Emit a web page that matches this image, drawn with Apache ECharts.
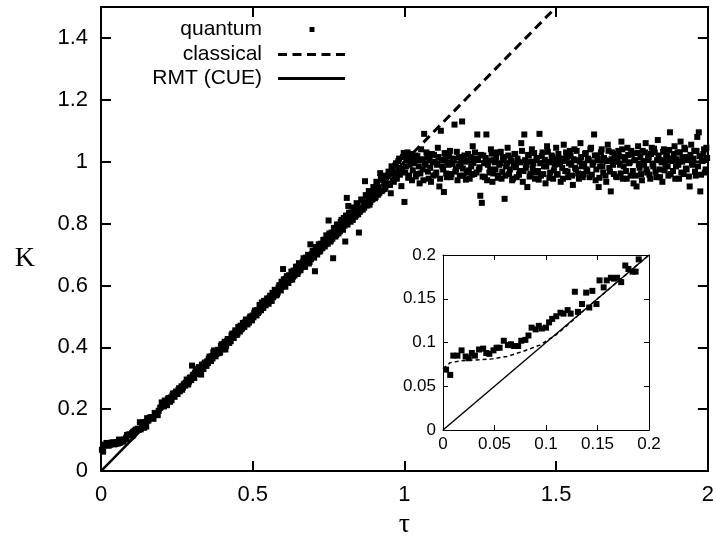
<!DOCTYPE html>
<html>
<head>
<meta charset="utf-8">
<script src="https://cdn.jsdelivr.net/npm/echarts@6/dist/echarts.min.js"></script>
<style>html,body{margin:0;padding:0;background:#fff}#c{width:717px;height:544px}</style>
</head>
<body>
<div id="c"></div>
<script>
// ---- data ----
const xTicksMain = [0, 0.5, 1, 1.5, 2];
const yTicksMain = [0, 0.2, 0.4, 0.6, 0.8, 1, 1.2, 1.4];
const ticksInset = [0, 0.05, 0.1, 0.15, 0.2];

// quantum K(tau), small tau (also shown in inset)
const quantumLow = [
[0.003,0.069],[0.007,0.063],[0.010,0.085],[0.014,0.085],[0.018,0.091],[0.022,0.084],[0.025,0.082],[0.028,0.088],[0.031,0.085],[0.035,0.092],
[0.039,0.093],[0.042,0.088],[0.045,0.087],[0.049,0.091],[0.052,0.094],[0.055,0.094],[0.059,0.102],[0.063,0.097],[0.066,0.098],[0.069,0.096],
[0.073,0.096],[0.076,0.102],[0.080,0.103],[0.083,0.108],[0.086,0.117],[0.090,0.115],[0.093,0.119],[0.096,0.116],[0.100,0.117],[0.103,0.123],
[0.106,0.127],[0.110,0.130],[0.114,0.134],[0.117,0.133],[0.121,0.137],[0.124,0.133],[0.128,0.158],[0.131,0.135],[0.135,0.144],[0.139,0.157],
[0.142,0.140],[0.145,0.159],[0.149,0.144],[0.152,0.171],[0.156,0.163],[0.159,0.171],[0.163,0.174],[0.166,0.173],[0.169,0.174],[0.173,0.169],
[0.177,0.188],[0.180,0.184],[0.184,0.181],[0.187,0.181],[0.190,0.195]
];
// quantum K(tau), linear ramp
const quantumRamp = [
[0.195,0.205],[0.200,0.222],[0.205,0.214],[0.210,0.228],[0.215,0.220],[0.220,0.232],[0.225,0.229],[0.230,0.238],[0.235,0.244],[0.240,0.246],
[0.245,0.252],[0.250,0.255],[0.255,0.262],[0.260,0.258],[0.265,0.274],[0.270,0.270],[0.275,0.283],[0.280,0.286],[0.285,0.291],[0.290,0.289],
[0.295,0.303],[0.300,0.341],[0.305,0.312],[0.310,0.318],[0.315,0.322],[0.320,0.331],[0.325,0.328],[0.330,0.312],[0.335,0.339],[0.340,0.346],
[0.345,0.348],[0.350,0.355],[0.355,0.363],[0.360,0.358],[0.365,0.372],[0.370,0.384],[0.375,0.377],[0.380,0.379],[0.385,0.392],[0.390,0.388],
[0.395,0.404],[0.400,0.398],[0.405,0.411],[0.410,0.393],[0.415,0.420],[0.420,0.427],[0.425,0.421],[0.430,0.439],[0.435,0.433],[0.440,0.446],
[0.445,0.452],[0.450,0.445],[0.455,0.461],[0.460,0.470],[0.465,0.462],[0.470,0.475],[0.475,0.481],[0.480,0.476],[0.485,0.488],[0.490,0.496],
[0.495,0.491],[0.500,0.503],[0.505,0.512],[0.510,0.506],[0.515,0.521],[0.520,0.515],[0.525,0.532],[0.530,0.545],[0.535,0.528],[0.540,0.544],
[0.545,0.551],[0.550,0.547],[0.555,0.560],[0.560,0.553],[0.565,0.576],[0.570,0.568],[0.575,0.582],[0.580,0.571],[0.585,0.594],[0.590,0.588],
[0.595,0.612],[0.600,0.653],[0.605,0.604],[0.610,0.622],[0.615,0.611],[0.620,0.633],[0.625,0.626],[0.630,0.619],[0.635,0.648],[0.640,0.642],
[0.645,0.661],[0.650,0.645],[0.655,0.667],[0.660,0.658],[0.665,0.676],[0.670,0.662],[0.675,0.690],[0.680,0.678],[0.685,0.671],[0.690,0.733],
[0.695,0.701],[0.700,0.692],[0.705,0.646],[0.710,0.718],[0.715,0.724],[0.720,0.709],[0.725,0.735],[0.730,0.722],[0.735,0.748],[0.740,0.733],
[0.745,0.757],[0.750,0.810],[0.755,0.742],[0.760,0.771],[0.765,0.688],[0.770,0.782],[0.775,0.763],[0.780,0.796],[0.785,0.777],[0.790,0.805],
[0.795,0.786],[0.800,0.818],[0.805,0.742],[0.810,0.883],[0.815,0.857],[0.820,0.825],[0.825,0.836],[0.830,0.812],[0.835,0.848],[0.840,0.827],
[0.845,0.860],[0.850,0.771],[0.855,0.842],[0.860,0.874],[0.865,0.851],[0.870,0.937],[0.875,0.866],[0.880,0.889],[0.885,0.861],[0.890,0.903],
[0.895,0.879],[0.900,0.915],[0.905,0.886],[0.910,0.928],[0.915,0.897],[0.920,0.963],[0.925,0.905],[0.930,0.940],[0.935,0.912],[0.940,0.951],
[0.945,0.925],[0.950,0.962],[0.955,0.898],[0.960,0.975],[0.965,0.935],[0.970,0.988],[0.975,0.945],[0.980,1.002],[0.985,0.958],[0.990,0.921],
[0.995,1.015]
];
// quantum K(tau), linear ramp, interleaved samples
const quantumRamp2 = [
[0.2025,0.218],[0.2075,0.209],[0.2125,0.226],[0.2175,0.213],[0.2225,0.236],[0.2275,0.224],[0.2325,0.229],[0.2375,0.251],[0.2425,0.240],[0.2475,0.257],
[0.2525,0.249],[0.2575,0.268],[0.2625,0.266],[0.2675,0.263],[0.2725,0.279],[0.2775,0.276],[0.2825,0.296],[0.2875,0.280],[0.2925,0.301],[0.2975,0.294],
[0.3025,0.309],[0.3075,0.301],[0.3125,0.328],[0.3175,0.314],[0.3225,0.336],[0.3275,0.322],[0.3325,0.344],[0.3375,0.330],[0.3425,0.351],[0.3475,0.340],
[0.3525,0.349],[0.3575,0.370],[0.3625,0.356],[0.3675,0.364],[0.3725,0.390],[0.3775,0.371],[0.3825,0.388],[0.3875,0.381],[0.3925,0.383],[0.3975,0.410],
[0.4025,0.394],[0.4075,0.418],[0.4125,0.405],[0.4175,0.427],[0.4225,0.414],[0.4275,0.420],[0.4325,0.444],[0.4375,0.430],[0.4425,0.455],[0.4475,0.440],
[0.4525,0.466],[0.4575,0.451],[0.4625,0.458],[0.4675,0.479],[0.4725,0.466],[0.4775,0.490],[0.4825,0.474],[0.4875,0.480],[0.4925,0.500],[0.4975,0.487],
[0.5025,0.497],[0.5075,0.519],[0.5125,0.503],[0.5175,0.511],[0.5225,0.537],[0.5275,0.520],[0.5325,0.527],[0.5375,0.550],[0.5425,0.536],[0.5475,0.558],
[0.5525,0.541],[0.5575,0.567],[0.5625,0.550],[0.5675,0.562],[0.5725,0.586],[0.5775,0.568],[0.5825,0.577],[0.5875,0.601],[0.5925,0.584],[0.5975,0.596],
[0.6025,0.620],[0.6075,0.596],[0.6125,0.630],[0.6175,0.608],[0.6225,0.618],[0.6275,0.645],[0.6325,0.628],[0.6375,0.632],[0.6425,0.660],[0.6475,0.637],
[0.6525,0.672],[0.6575,0.649],[0.6625,0.664],[0.6675,0.688],[0.6725,0.660],[0.6775,0.672],[0.6825,0.699],[0.6875,0.676],[0.6925,0.685],[0.6975,0.712],
[0.7025,0.690],[0.7075,0.724],[0.7125,0.700],[0.7175,0.733],[0.7225,0.712],[0.7275,0.720],[0.7325,0.747],[0.7375,0.726],[0.7425,0.762],[0.7475,0.735],
[0.7525,0.768],[0.7575,0.745],[0.7625,0.751],[0.7675,0.786],[0.7725,0.758],[0.7775,0.797],[0.7825,0.768],[0.7875,0.775],[0.7925,0.812],[0.7975,0.780],
[0.8025,0.793],[0.8075,0.826],[0.8125,0.797],[0.8175,0.835],[0.8225,0.806],[0.8275,0.818],[0.8325,0.852],[0.8375,0.822],[0.8425,0.866],[0.8475,0.830],
[0.8525,0.838],[0.8575,0.878],[0.8625,0.845],[0.8675,0.852],[0.8725,0.892],[0.8775,0.858],[0.8825,0.905],[0.8875,0.870],[0.8925,0.877],[0.8975,0.918],
[0.9025,0.882],[0.9075,0.935],[0.9125,0.893],[0.9175,0.900],[0.9225,0.946],[0.9275,0.908],[0.9325,0.955],[0.9375,0.918],[0.9425,0.930],[0.9475,0.968],
[0.9525,0.925],[0.9575,0.985],[0.9625,0.940],[0.9675,0.952],[0.9725,0.995],[0.9775,0.962],[0.9825,1.010],[0.9875,0.970],[0.9925,0.978],[0.9975,1.028]
];
// quantum K(tau), plateau
const quantumPlateau = [
[1.000,0.870],[1.005,0.985],[1.010,1.030],[1.015,0.955],[1.020,1.010],[1.025,0.940],[1.030,0.995],[1.035,1.020],[1.040,0.960],[1.045,1.005],
[1.050,0.930],[1.055,1.040],[1.060,0.975],[1.065,1.090],[1.070,0.990],[1.075,1.015],[1.080,0.945],[1.085,0.980],[1.090,1.025],[1.095,0.955],
[1.100,1.000],[1.105,0.965],[1.110,1.045],[1.115,0.920],[1.120,1.100],[1.125,0.985],[1.130,0.902],[1.135,1.010],[1.140,0.950],[1.145,0.990],
[1.150,1.035],[1.155,0.960],[1.160,1.005],[1.165,1.120],[1.170,0.975],[1.175,0.940],[1.180,1.015],[1.185,0.990],[1.190,1.130],[1.195,0.955],
[1.200,1.000],[1.205,0.965],[1.210,1.025],[1.215,0.945],[1.220,0.985],[1.225,1.050],[1.230,0.960],[1.235,1.010],[1.240,1.088],[1.245,0.975],
[1.250,0.890],[1.255,0.867],[1.260,1.020],[1.265,0.950],[1.270,1.088],[1.275,0.990],[1.280,0.965],[1.285,1.040],[1.290,0.935],[1.295,1.005],
[1.300,0.975],[1.305,1.030],[1.310,0.955],[1.315,0.995],[1.320,0.945],[1.325,1.015],[1.330,0.880],[1.335,0.985],[1.340,1.045],[1.345,0.960],
[1.350,1.010],[1.355,0.940],[1.360,0.990],[1.365,1.025],[1.370,0.950],[1.375,1.000],[1.380,0.970],[1.385,1.060],[1.390,0.935],[1.395,1.088],
[1.400,0.980],[1.405,0.918],[1.410,1.020],[1.415,0.960],[1.420,1.040],[1.425,0.995],[1.430,0.945],[1.435,1.010],[1.440,0.970],[1.445,1.090],
[1.450,0.955],[1.455,1.030],[1.460,0.985],[1.465,0.930],[1.470,1.050],[1.475,1.000],[1.480,0.965],[1.485,1.020],[1.490,0.945],[1.495,0.990],
[1.500,1.045],[1.505,0.960],[1.510,1.010],[1.515,0.935],[1.520,0.980],[1.525,1.055],[1.530,0.970],[1.535,1.015],[1.540,0.950],[1.545,1.035],
[1.550,0.990],[1.555,0.925],[1.560,1.040],[1.565,0.975],[1.570,1.005],[1.575,0.945],[1.580,1.060],[1.585,0.985],[1.590,0.960],[1.595,1.025],
[1.600,0.975],[1.605,1.010],[1.610,0.950],[1.615,1.045],[1.620,0.990],[1.625,1.088],[1.630,0.940],[1.635,1.020],[1.640,0.918],[1.645,0.985],
[1.650,1.040],[1.655,0.965],[1.660,1.005],[1.665,0.935],[1.670,1.055],[1.675,0.980],[1.680,0.904],[1.685,1.030],[1.690,0.960],[1.695,1.010],
[1.700,0.950],[1.705,1.035],[1.710,0.990],[1.715,1.065],[1.720,0.945],[1.725,1.015],[1.730,0.970],[1.735,1.045],[1.740,0.995],[1.745,0.955],
[1.750,1.025],[1.755,0.930],[1.760,1.005],[1.765,0.920],[1.770,1.050],[1.775,0.980],[1.780,0.960],[1.785,1.035],[1.790,0.990],[1.795,1.060],
[1.800,0.965],[1.805,1.015],[1.810,0.945],[1.815,1.045],[1.820,0.985],[1.825,1.030],[1.830,0.950],[1.835,1.070],[1.840,0.975],[1.845,1.005],
[1.850,0.935],[1.855,1.040],[1.860,0.990],[1.865,1.020],[1.870,0.955],[1.875,1.095],[1.880,1.010],[1.885,0.970],[1.890,1.050],[1.895,0.985],
[1.900,1.030],[1.905,0.945],[1.910,1.065],[1.915,1.000],[1.920,0.960],[1.925,1.040],[1.930,0.975],[1.935,1.015],[1.940,0.920],[1.945,1.055],
[1.950,0.990],[1.955,1.035],[1.960,0.955],[1.965,1.080],[1.970,1.095],[1.975,0.904],[1.980,1.005],[1.985,1.025],[1.990,0.965],[1.995,1.045]
];
// quantum K(tau), plateau, interleaved samples
const quantumPlateau2 = [
[1.0025,0.965],[1.0075,1.012],[1.0125,0.948],[1.0175,0.990],[1.0225,1.025],[1.0275,0.972],[1.0325,1.004],[1.0375,0.952],[1.0425,1.018],[1.0475,0.985],
[1.0525,0.962],[1.0575,1.008],[1.0625,0.940],[1.0675,0.995],[1.0725,1.030],[1.0775,0.968],[1.0825,1.012],[1.0875,0.935],[1.0925,0.998],[1.0975,1.022],
[1.1025,0.958],[1.1075,0.990],[1.1125,1.015],[1.1175,0.945],[1.1225,1.005],[1.1275,0.975],[1.1325,1.028],[1.1375,0.962],[1.1425,0.998],[1.1475,1.018],
[1.1525,0.950],[1.1575,0.992],[1.1625,1.010],[1.1675,0.968],[1.1725,1.032],[1.1775,0.985],[1.1825,0.955],[1.1875,1.006],[1.1925,0.978],[1.1975,1.020],
[1.2025,0.942],[1.2075,1.003],[1.2125,0.972],[1.2175,1.015],[1.2225,0.958],[1.2275,0.996],[1.2325,1.030],[1.2375,0.965],[1.2425,1.008],[1.2475,0.982],
[1.2525,1.022],[1.2575,0.952],[1.2625,0.995],[1.2675,1.012],[1.2725,0.940],[1.2775,1.004],[1.2825,0.975],[1.2875,1.026],[1.2925,0.962],[1.2975,0.998],
[1.3025,1.015],[1.3075,0.948],[1.3125,0.990],[1.3175,1.032],[1.3225,0.968],[1.3275,1.008],[1.3325,0.955],[1.3375,0.995],[1.3425,1.020],[1.3475,0.975],
[1.3525,1.002],[1.3575,0.945],[1.3625,1.025],[1.3675,0.982],[1.3725,1.010],[1.3775,0.958],[1.3825,0.998],[1.3875,1.035],[1.3925,0.970],[1.3975,1.005],
[1.4025,0.990],[1.4075,1.022],[1.4125,0.952],[1.4175,1.000],[1.4225,0.978],[1.4275,1.028],[1.4325,0.965],[1.4375,1.012],[1.4425,0.942],[1.4475,0.995],
[1.4525,1.018],[1.4575,0.960],[1.4625,1.006],[1.4675,0.985],[1.4725,1.032],[1.4775,0.948],[1.4825,0.998],[1.4875,1.015],[1.4925,0.972],[1.4975,1.008],
[1.5025,0.958],[1.5075,1.025],[1.5125,0.992],[1.5175,1.010],[1.5225,0.945],[1.5275,1.002],[1.5325,1.030],[1.5375,0.968],[1.5425,0.995],[1.5475,1.018],
[1.5525,0.955],[1.5575,1.008],[1.5625,0.980],[1.5675,1.035],[1.5725,0.962],[1.5775,1.000],[1.5825,1.015],[1.5875,0.950],[1.5925,0.990],[1.5975,1.028],
[1.6025,0.970],[1.6075,1.005],[1.6125,1.040],[1.6175,0.958],[1.6225,0.998],[1.6275,1.020],[1.6325,0.975],[1.6375,1.010],[1.6425,0.948],[1.6475,1.030],
[1.6525,0.985],[1.6575,1.012],[1.6625,0.955],[1.6675,1.002],[1.6725,1.035],[1.6775,0.968],[1.6825,1.008],[1.6875,0.990],[1.6925,1.025],[1.6975,0.952],
[1.7025,1.000],[1.7075,1.018],[1.7125,0.962],[1.7175,1.040],[1.7225,0.985],[1.7275,1.010],[1.7325,0.945],[1.7375,1.022],[1.7425,0.998],[1.7475,1.035],
[1.7525,0.970],[1.7575,1.005],[1.7625,0.955],[1.7675,1.028],[1.7725,0.990],[1.7775,1.015],[1.7825,0.940],[1.7875,1.002],[1.7925,1.030],[1.7975,0.975],
[1.8025,1.010],[1.8075,0.958],[1.8125,1.025],[1.8175,0.992],[1.8225,1.042],[1.8275,0.968],[1.8325,1.005],[1.8375,1.020],[1.8425,0.950],[1.8475,0.998],
[1.8525,1.032],[1.8575,0.972],[1.8625,1.012],[1.8675,0.985],[1.8725,1.038],[1.8775,0.960],[1.8825,1.002],[1.8875,1.025],[1.8925,0.945],[1.8975,1.008],
[1.9025,0.990],[1.9075,1.030],[1.9125,0.965],[1.9175,1.015],[1.9225,1.045],[1.9275,0.978],[1.9325,1.005],[1.9375,0.952],[1.9425,1.022],[1.9475,0.995],
[1.9525,1.010],[1.9575,0.968],[1.9625,1.035],[1.9675,0.985],[1.9725,1.018],[1.9775,0.958],[1.9825,1.002],[1.9875,1.040],[1.9925,0.975],[1.9975,1.012]
];
// classical prediction
const classicalTau = [0, 0.007, 0.017, 0.030, 0.046, 0.062, 0.078, 0.094, 0.110, 0.123, 0.133, 0.2, 1.5];
const classicalK   = [0.070, 0.077, 0.079, 0.080, 0.081, 0.084, 0.090, 0.097, 0.109, 0.122, 0.133, 0.2, 1.5];
// RMT (CUE)
const rmtTau = [0, 1, 2];
const rmtK   = [0, 1, 1];
const rmtInsetTau = [0, 0.2];
const rmtInsetK   = [0, 0.2];

// ---- build ----
const quantumAll = quantumLow.concat(quantumRamp, quantumRamp2, quantumPlateau, quantumPlateau2);
const quantumInset = quantumLow.filter(p => p[0] <= 0.2);
const classicalMain = classicalTau.map((t, i) => [t, classicalK[i]]);
const classicalInset = classicalMain.filter(p => p[0] <= 0.2);
const rmtMain = rmtTau.map((t, i) => [t, rmtK[i]]);
const rmtInset = rmtInsetTau.map((t, i) => [t, rmtInsetK[i]]);

const SANS = 'Liberation Sans, Arial, Helvetica, sans-serif';
const SERIF = 'Liberation Serif, Times New Roman, serif';

function axis(opts) {
  const lw = opts.lw, tl = opts.tl;
  const a = {
    type: 'value', gridIndex: opts.grid, min: opts.min, max: opts.max, interval: opts.interval,
    position: opts.position, z: 10,
    axisLine: { show: true, onZero: false, lineStyle: { color: '#000', width: lw } },
    axisTick: { show: true, inside: true, length: tl, lineStyle: { color: '#000', width: lw } },
    splitLine: { show: false },
    axisLabel: opts.labels ? {
      show: true, color: '#000', fontSize: opts.fs, fontFamily: SANS, margin: opts.margin,
      showMaxLabel: opts.showMax, formatter: v => String(+v.toFixed(3))
    } : { show: false }
  };
  if (opts.name) Object.assign(a, opts.name);
  return a;
}

const option = {
  animation: false,
  backgroundColor: '#fff',
  grid: [
    { left: 101, right: 3, top: 7, bottom: 68, show: false },
    { left: 443, right: 68, top: 255, bottom: 114, show: true, backgroundColor: '#fff', borderWidth: 0, z: 4 }
  ],
  xAxis: [
    axis({ grid: 0, min: 0, max: 2, interval: 0.5, position: 'bottom', lw: 2, tl: 10, labels: true, fs: 22, margin: 13, showMax: true,
      name: { name: 'τ', nameLocation: 'middle', nameGap: 30, nameTextStyle: { fontFamily: SERIF, fontSize: 28, color: '#000' } } }),
    axis({ grid: 0, min: 0, max: 2, interval: 0.5, position: 'top', lw: 2, tl: 10, labels: false }),
    axis({ grid: 1, min: 0, max: 0.2, interval: 0.05, position: 'bottom', lw: 1, tl: 5, labels: true, fs: 17, margin: 6, showMax: true }),
    axis({ grid: 1, min: 0, max: 0.2, interval: 0.05, position: 'top', lw: 1, tl: 5, labels: false })
  ],
  yAxis: [
    axis({ grid: 0, min: 0, max: 1.5, interval: 0.2, position: 'left', lw: 2, tl: 10, labels: true, fs: 22, margin: 13, showMax: false,
      name: { name: 'K', nameLocation: 'middle', nameRotate: 0, nameGap: 66,
        nameTextStyle: { fontFamily: SERIF, fontSize: 28, color: '#000', verticalAlign: 'top', lineHeight: 40 } } }),
    axis({ grid: 0, min: 0, max: 1.5, interval: 0.2, position: 'right', lw: 2, tl: 10, labels: false }),
    axis({ grid: 1, min: 0, max: 0.2, interval: 0.05, position: 'left', lw: 1, tl: 5, labels: true, fs: 17, margin: 7, showMax: true }),
    axis({ grid: 1, min: 0, max: 0.2, interval: 0.05, position: 'right', lw: 1, tl: 5, labels: false })
  ],
  legend: [
    { data: ['quantum'], right: 372, top: 19, orient: 'vertical', align: 'right', padding: 0,
      itemWidth: 78, itemHeight: 6, icon: 'path://M0 0L0 6M78 0L78 6M42.5 0.5h5v5h-5z',
      itemStyle: { borderWidth: 0, opacity: 1 }, textStyle: { fontSize: 21, fontFamily: SANS, color: '#000' } },
    { data: ['classical'], right: 372, top: 44, orient: 'vertical', align: 'right', padding: 0,
      itemWidth: 78, itemHeight: 6, icon: 'path://M0 0L0 6M78 0L78 6M11 1.5h9v3h-9zM25.5 1.5h9v3h-9zM40 1.5h9v3h-9zM54.5 1.5h9v3h-9zM69 1.5h9v3h-9z',
      itemStyle: { borderWidth: 0 }, lineStyle: { width: 0 }, textStyle: { fontSize: 21, fontFamily: SANS, color: '#000' } },
    { data: ['RMT (CUE)'], right: 372, top: 68, orient: 'vertical', align: 'right', padding: 0,
      itemWidth: 78, itemHeight: 6, icon: 'path://M0 0L0 6M78 0L78 6M11 1.5h67v3h-67z',
      itemStyle: { borderWidth: 0 }, lineStyle: { width: 0 }, textStyle: { fontSize: 21, fontFamily: SANS, color: '#000' } }
  ],
  series: [
    { name: 'quantum', type: 'scatter', xAxisIndex: 0, yAxisIndex: 0, data: quantumAll,
      symbol: 'rect', symbolSize: 6, itemStyle: { color: '#000', opacity: 1 }, z: 2, silent: true },
    { name: 'classical', type: 'line', xAxisIndex: 0, yAxisIndex: 0, data: classicalMain, showSymbol: false, symbol: 'none',
      itemStyle: { color: '#000' }, lineStyle: { color: '#000', width: 3, type: [9, 5.5] }, z: 3, silent: true },
    { name: 'RMT (CUE)', type: 'line', xAxisIndex: 0, yAxisIndex: 0, data: rmtMain, showSymbol: false, symbol: 'none',
      itemStyle: { color: '#000' }, lineStyle: { color: '#000', width: 2.5 }, z: 3, silent: true },
    { name: 'quantum_inset', type: 'scatter', xAxisIndex: 2, yAxisIndex: 2, data: quantumInset,
      symbol: 'rect', symbolSize: 6, itemStyle: { color: '#000', opacity: 1 }, z: 6, silent: true },
    { name: 'classical_inset', type: 'line', xAxisIndex: 2, yAxisIndex: 2, data: classicalInset, showSymbol: false, symbol: 'none',
      lineStyle: { color: '#000', width: 1.5, type: [4, 3] }, z: 6, silent: true },
    { name: 'rmt_inset', type: 'line', xAxisIndex: 2, yAxisIndex: 2, data: rmtInset, showSymbol: false, symbol: 'none',
      lineStyle: { color: '#000', width: 1.4 }, z: 6, silent: true }
  ]
};
const chart = echarts.init(document.getElementById('c'), null, { renderer: 'canvas' });
chart.setOption(option);
</script>
</body>
</html>
